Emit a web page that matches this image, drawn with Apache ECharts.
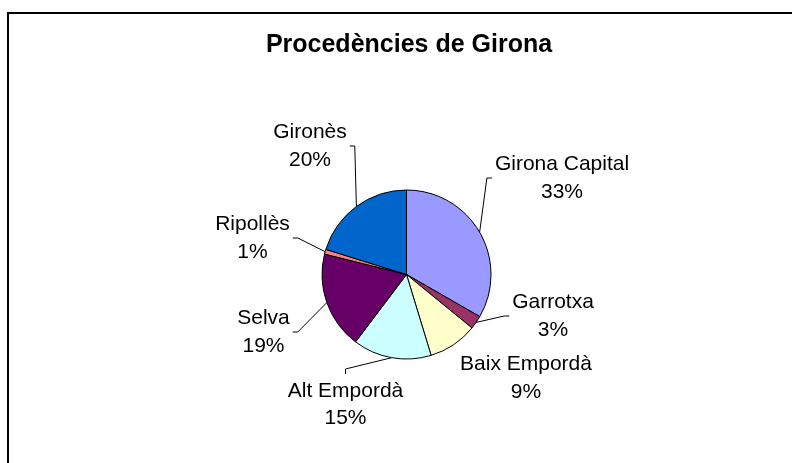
<!DOCTYPE html>
<html>
<head>
<meta charset="utf-8">
<title>Procedències de Girona</title>
<script src="https://cdn.jsdelivr.net/npm/echarts@6.0.0/dist/echarts.min.js"></script>
<style>
  html, body { margin: 0; padding: 0; background: #fff; }
  #main { width: 792px; height: 463px; }
</style>
</head>
<body>
<div id="main"></div>
<script>
// dades: percentatge de procedència per comarca
var comarques = ['Girona Capital', 'Garrotxa', 'Baix Empordà', 'Alt Empordà', 'Selva', 'Ripollès', 'Gironès'];
var percentatges = [33.3, 2.6, 9.4, 15.0, 18.6, 0.9, 20.2];

var FONT = 'Liberation Sans, Arial, Helvetica, sans-serif';

// centres de les etiquetes (a l'original estaven col·locades a mà)
var labelCentres = {
    'Girona Capital': [562, 178],
    'Garrotxa': [553, 316],
    'Baix Empordà': [526, 378],
    'Alt Empordà': [345.5, 404.5],
    'Selva': [263.5, 332],
    'Ripollès': [252.5, 238],
    'Gironès': [310, 146]
};

var myChart = echarts.init(document.getElementById('main'));

var pieData = comarques.map(function (nom, i) {
    var item = { name: nom, value: percentatges[i] };
    // l'etiqueta de Baix Empordà toca el formatge, no porta línia
    if (nom === 'Baix Empordà') {
        item.labelLine = { show: false };
    }
    return item;
});

option = {
    backgroundColor: '#fff',
    animation: false,
    color: ['#9999FF', '#993366', '#FFFFCC', '#CCFFFF', '#660066', '#FF8080', '#0066CC'],
    title: {
        text: 'Procedències de Girona',
        left: 409,
        top: 33,
        textAlign: 'center',
        padding: 0,
        textStyle: {
            fontFamily: FONT,
            fontWeight: 'bold',
            fontSize: 25,
            color: '#000'
        }
    },
    // marc del gràfic
    graphic: [{
        type: 'rect',
        silent: true,
        z: -1,
        shape: { x: 8, y: 13, width: 800, height: 500 },
        style: { fill: 'transparent', stroke: '#000', lineWidth: 2 }
    }],
    series: [{
        type: 'pie',
        center: [406.5, 274.5],
        radius: 84.5,
        startAngle: 90,
        clockwise: true,
        avoidLabelOverlap: false,
        percentPrecision: 0,
        emphasis: { disabled: true },
        itemStyle: { borderColor: '#000', borderWidth: 1 },
        label: {
            show: true,
            position: 'outside',
            formatter: '{b}\n{d}%',
            fontFamily: FONT,
            fontSize: 21,
            lineHeight: 27.5,
            color: '#000'
        },
        labelLine: {
            show: true,
            length: 10,
            length2: 5,
            lineStyle: { color: '#000', width: 1 }
        },
        labelLayout: function (params) {
            var nom = comarques[params.dataIndex];
            var c = labelCentres[nom];
            var w = params.labelRect.width, h = params.labelRect.height;
            var res = { x: c[0], y: c[1], align: 'center', verticalAlign: 'middle' };
            var pts = params.labelLinePoints;
            if (pts && pts.length) {
                // línia tipus Excel: del mig de l'arc fins al costat de l'etiqueta
                var p0 = pts[0];
                var pad = 3, tick = 5;
                var L = c[0] - w / 2 - pad, R = c[0] + w / 2 + pad, T = c[1] - h / 2 - pad;
                var anchor, bend;
                if (p0[0] < L) {
                    anchor = [L, c[1]]; bend = [L - tick, c[1]];
                } else if (p0[0] > R) {
                    anchor = [R, c[1]]; bend = [R + tick, c[1]];
                } else {
                    anchor = [c[0], T]; bend = [c[0], T - tick];
                }
                res.labelLinePoints = [p0, bend, anchor];
            }
            return res;
        },
        data: pieData
    }]
};

myChart.setOption(option);
</script>
</body>
</html>
